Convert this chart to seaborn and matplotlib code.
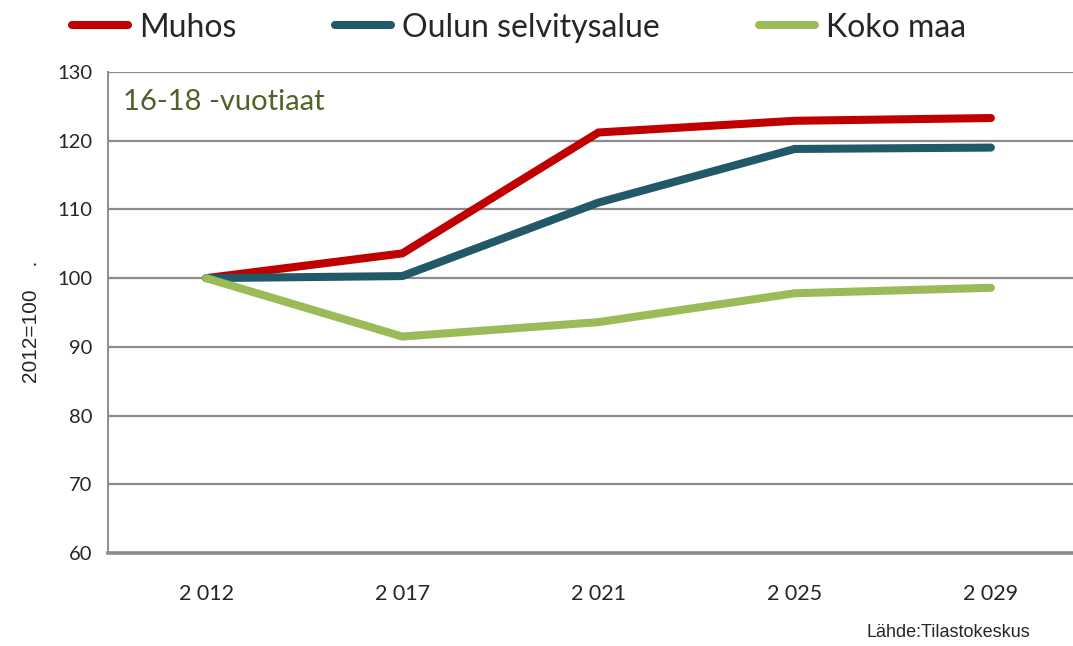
import seaborn as sns
import matplotlib.pyplot as plt
import pandas as pd
from matplotlib.lines import Line2D

years = ['2 012', '2 017', '2 021', '2 025', '2 029']
muhos = [100, 103.6, 121.2, 122.9, 123.3]
oulu = [100, 100.3, 111.0, 118.8, 119.0]
koko_maa = [100, 91.5, 93.6, 97.8, 98.6]
series_names = ['Muhos', 'Oulun selvitysalue', 'Koko maa']
colors = ['#C00000', '#215968', '#9BBB59']

sns.set_theme(style='white')
plt.rcParams['font.family'] = ['Lato', 'DejaVu Sans']

df = pd.DataFrame({
    'year': years * 3,
    'pos': list(range(len(years))) * 3,
    'value': muhos + oulu + koko_maa,
    'series': [n for n in series_names for _ in years],
})

fig = plt.figure(figsize=(10.73, 6.46), dpi=100)
ax = fig.add_axes([108 / 1073, 1 - 553 / 646, (1089 - 108) / 1073, (553 - 72) / 646])

ax.set_axisbelow(True)
ax.grid(axis='y', color='#8c8c8c', linewidth=1.6)

sns.lineplot(
    data=df, x='pos', y='value', hue='series',
    hue_order=series_names, palette=colors,
    linewidth=5.8, legend=False, ax=ax, sort=False
)
for line in ax.get_lines():
    line.set_solid_capstyle('round')
    line.set_solid_joinstyle('miter')

ax.set_xlim(-0.5, 4.5)
ax.set_ylim(60, 130)
ax.set_yticks(range(60, 131, 10))
ax.set_xticks(range(len(years)))
ax.set_xticklabels(years)
ax.set_xticks([i + 0.5 for i in range(-1, len(years))], minor=True)
ax.tick_params(axis='x', which='major', length=0, pad=22, labelsize=15.5)
ax.tick_params(axis='x', which='minor', length=9, width=1.4, color='#8c8c8c', direction='out')
ax.tick_params(axis='y', length=7, width=1.4, color='#8c8c8c', direction='out', pad=4, labelsize=14.5)

for side in ['top', 'right']:
    ax.spines[side].set_visible(False)
ax.spines['left'].set_color('#8c8c8c')
ax.spines['left'].set_linewidth(1.4)
ax.spines['bottom'].set_color('#8c8c8c')
ax.spines['bottom'].set_linewidth(2.6)

ax.set_xlabel('')
ax.set_ylabel('2012=100    .', fontsize=15, family=['Liberation Sans', 'DejaVu Sans'])
ax.yaxis.set_label_coords(-0.068, 0.48)

ax.text(0.015, 0.965, '16-18 -vuotiaat', transform=ax.transAxes,
        color='#4F6228', fontsize=21, va='top', ha='left')

handles = [Line2D([0], [0], color=c, linewidth=5.8, solid_capstyle='round') for c in colors]
fig.legend(handles, series_names, loc='upper left', bbox_to_anchor=(0.04, 1.025),
           ncol=3, frameon=False, fontsize=23, handlelength=1.75,
           handletextpad=0.35, columnspacing=3.1)

fig.text(0.96, 0.007, 'Lähde:Tilastokeskus', ha='right', va='bottom',
         fontsize=13, family=['Liberation Sans', 'DejaVu Sans'])

fig.savefig('out.png', dpi=100)
